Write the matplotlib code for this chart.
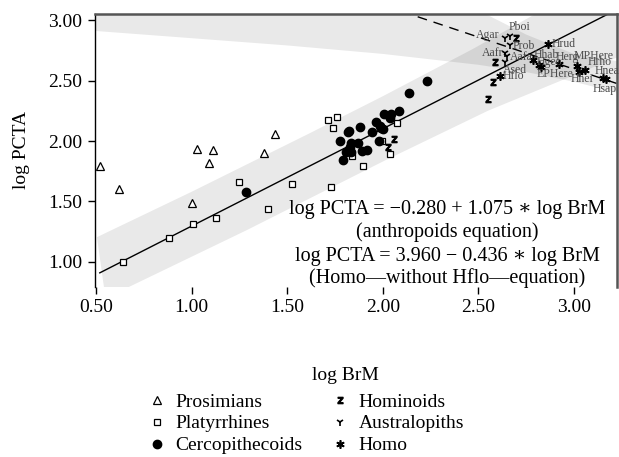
import matplotlib
matplotlib.use("Agg")
import matplotlib.pyplot as plt

plt.rcParams['font.family'] = ['Liberation Serif', 'DejaVu Serif']
plt.rcParams['mathtext.fontset'] = 'dejavuserif'

# ---- data (log BrM, log PCTA) ----
prosim_x = [0.521, 0.619, 1.000, 1.027, 1.091, 1.114, 1.380, 1.438]
prosim_y = [1.796, 1.603, 1.485, 1.934, 1.818, 1.926, 1.898, 2.060]

platy_x = [0.641, 0.880, 1.009, 1.128, 1.246, 1.400, 1.523, 1.727, 1.713,
           1.760, 1.738, 1.839, 1.896, 1.997, 2.038, 2.076]
platy_y = [1.003, 1.202, 1.314, 1.364, 1.661, 1.440, 1.645, 1.620, 2.174,
           2.200, 2.105, 1.874, 1.793, 2.000, 1.890, 2.149]

cerco_x = [1.283, 2.229, 2.139, 2.085, 2.041, 2.009, 2.038, 1.963, 1.882,
           1.823, 1.818, 1.942, 1.985, 2.001, 1.993, 1.778, 1.835, 1.869,
           1.829, 1.808, 1.832, 1.893, 1.919, 1.982, 1.790]
cerco_y = [1.579, 2.496, 2.394, 2.248, 2.221, 2.221, 2.193, 2.155, 2.116,
           2.083, 2.072, 2.072, 2.124, 2.097, 2.110, 2.003, 1.986, 1.981,
           1.948, 1.909, 1.907, 1.920, 1.926, 1.998, 1.843]

homin_x = [2.059, 2.029, 2.552, 2.578, 2.587, 2.697]
homin_y = [2.014, 1.948, 2.345, 2.490, 2.650, 2.849]

austr_names = ['Agar', 'Pboi', 'Prob', 'Aafr', 'Aafa', 'Ased']
austr_x = [2.638, 2.668, 2.663, 2.641, 2.652, 2.639]
austr_y = [2.855, 2.865, 2.790, 2.730, 2.700, 2.650]

homo_names = ['Hflo', 'Hrud', 'Hhab', 'Hgeo', 'EPHere', 'Herg', 'MPHere',
              'Hhei', 'Hrho', 'Hnea', 'Hsap']
homo_x = [2.613, 2.862, 2.784, 2.817, 2.830, 2.923, 3.017, 3.028, 3.057,
          3.150, 3.165]
homo_y = [2.537, 2.800, 2.670, 2.625, 2.610, 2.634, 2.620, 2.573, 2.590,
          2.520, 2.510]

# fitted lines as drawn
anth_line_x = [0.52, 3.20]
anth_line_y = [0.91, 3.067]
homo_line_x = [2.10, 3.225]
homo_line_y = [3.071, 2.475]

# shaded intervals (polygon outlines)
anth_band_x = [0.505, 1.00, 1.62, 2.00, 2.47, 2.90, 3.225,
               3.225, 2.55, 2.00, 1.29, 0.55]
anth_band_y = [1.205, 1.58, 2.066, 2.37, 2.76, 3.14, 3.42,
               2.69, 2.25, 1.83, 1.264, 0.70]
homo_band_x = [0.495, 2.00, 2.50, 2.75, 3.00, 3.225,
               3.225, 3.00, 2.75, 2.50, 2.00, 1.50, 1.00, 0.495]
homo_band_y = [4.90, 3.53, 3.08, 2.88, 2.72, 2.66,
               2.40, 2.49, 2.57, 2.63, 2.72, 2.79, 2.85, 2.91]

eq_lines = ['log PCTA = \u22120.280 + 1.075 \u2217 log BrM',
            '(anthropoids equation)',
            'log PCTA = 3.960 \u2212 0.436 \u2217 log BrM',
            '(Homo\u2014without Hflo\u2014equation)']

# label offsets in pixels (dx, dy, ha)
lab_off = {
    'Agar': (-5, 3, 'right'), 'Pboi': (-2, 9, 'left'), 'Prob': (3, -1, 'left'),
    'Aafr': (-2, 0, 'right'), 'Aafa': (2, -1, 'left'), 'Ased': (-2, -8, 'left'),
    'Hflo': (3, 0, 'left'), 'Hrud': (4, 0, 'left'), 'Hhab': (1, 5, 'left'),
    'Hgeo': (-2, 3.5, 'left'), 'EPHere': (-5, -7, 'left'), 'Herg': (-4, 7, 'left'),
    'MPHere': (-4, 10, 'left'), 'Hrho': (3, 7.5, 'left'), 'Hhei': (-9, -7.6, 'left'),
    'Hnea': (-8, 7, 'left'), 'Hsap': (-13, -10, 'left'),
}

W, H = 619, 457
fig = plt.figure(figsize=(W / 100, H / 100), dpi=100)
ax = fig.add_axes([95 / W, 1 - 287 / H, (617 - 95) / W, (287 - 14) / H])
ax.set_xlim(0.495, 3.225)
ax.set_ylim(0.793, 3.05)

ax.fill(anth_band_x, anth_band_y, color='k', alpha=0.085, lw=0, zorder=1)
ax.fill(homo_band_x, homo_band_y, color='k', alpha=0.085, lw=0, zorder=1)

ax.plot(anth_line_x, anth_line_y, color='k', lw=1.0, zorder=2)
ax.plot(homo_line_x, homo_line_y, color='k', lw=1.0, ls=(0, (7, 5)), zorder=2)

ms = 5.5
kw = dict(ls='none', color='k', zorder=3)
h1, = ax.plot(prosim_x, prosim_y, marker='^', mfc='white', mec='k', mew=0.9, ms=ms, **kw)
h2, = ax.plot(platy_x, platy_y, marker='s', mfc='white', mec='k', mew=0.9, ms=ms - 0.5, **kw)
h3, = ax.plot(cerco_x, cerco_y, marker='o', ms=ms + 0.5, **kw)
h4, = ax.plot(homin_x, homin_y, marker='$\\mathsf{z}$', ms=4.5, **kw)
h5, = ax.plot(austr_x, austr_y, marker='1', ms=5.5, mew=1.2, **kw)
h6, = ax.plot(homo_x, homo_y, marker=(6, 2, 0), ms=6, mew=1.2, **kw)

for names, xs, ys in [(austr_names, austr_x, austr_y), (homo_names, homo_x, homo_y)]:
    for n, x, y in zip(names, xs, ys):
        dx, dy, ha = lab_off[n]
        ax.annotate(n, (x, y), xytext=(dx * 0.72, dy * 0.72), textcoords='offset points',
                    ha=ha, va='center', fontsize=8.5, color='#4a4a4a', zorder=4)

ax.set_xticks([0.5, 1.0, 1.5, 2.0, 2.5, 3.0])
ax.set_xticklabels(['0.50', '1.00', '1.50', '2.00', '2.50', '3.00'])
ax.set_yticks([1.0, 1.5, 2.0, 2.5, 3.0])
ax.set_yticklabels(['1.00', '1.50', '2.00', '2.50', '3.00'])
ax.tick_params(labelsize=14, length=5, width=1, direction='out', pad=4)

ax.spines['bottom'].set_visible(False)
ax.spines['left'].set_linewidth(1.0)
for s in ['top', 'right']:
    ax.spines[s].set_color('#555555')
    ax.spines[s].set_linewidth(1.8)

fig.text(22 / W, 1 - 150 / H, 'log PCTA', rotation=90, ha='center', va='center', fontsize=14)
fig.text(345 / W, 1 - 375 / H, 'log BrM', ha='center', va='center', fontsize=14)

for txt, yy in zip(eq_lines, [210, 232, 257, 278]):
    fig.text(447 / W, 1 - yy / H, txt, ha='center', va='center', fontsize=14.5)

fig.legend([h1, h2, h3, h4, h5, h6],
           ['Prosimians', 'Platyrrhines', 'Cercopithecoids',
            'Hominoids', 'Australopiths', 'Homo'],
           ncol=2, loc='upper left', bbox_to_anchor=(147 / W, 1 - 393 / H),
           frameon=False, fontsize=14, handlelength=1.0, handletextpad=0.45,
           columnspacing=1.45, labelspacing=0.22, borderaxespad=0, borderpad=0)

fig.savefig('out.png', dpi=100)
